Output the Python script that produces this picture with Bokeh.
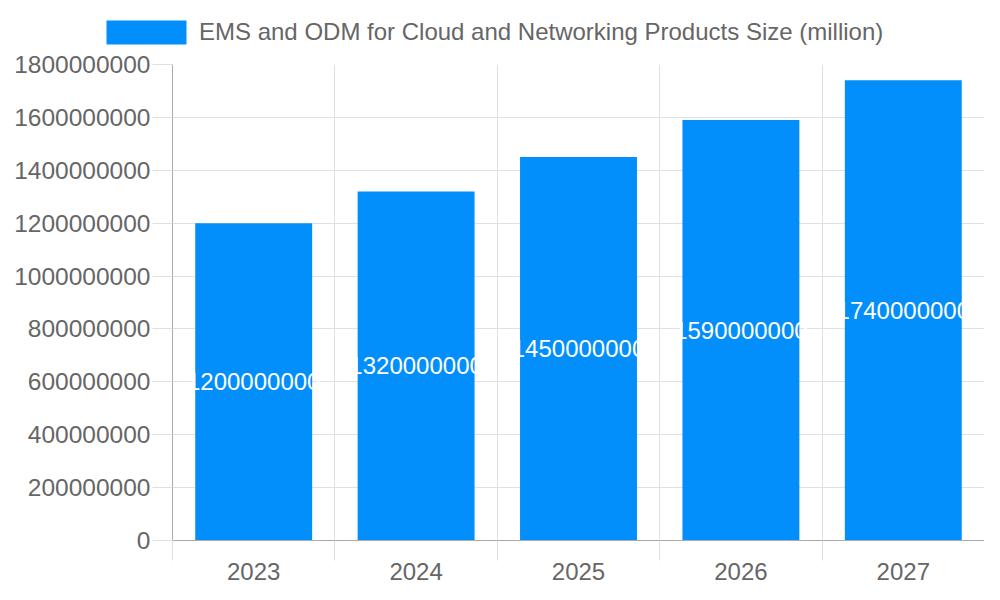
from bokeh.plotting import figure
from bokeh.models import ColumnDataSource, Range1d, FixedTicker, Legend, LegendItem, NumeralTickFormatter
from bokeh.embed import file_html
from bokeh.resources import INLINE
from bokeh.core.properties import value

# ---- data ----
years = ["2023", "2024", "2025", "2026", "2027"]
sizes = [1200000000, 1320000000, 1450000000, 1590000000, 1740000000]
series_name = "EMS and ODM for Cloud and Networking Products Size (million)"
y_ticks = [0, 200000000, 400000000, 600000000, 800000000,
           1000000000, 1200000000, 1400000000, 1600000000, 1800000000]

BLUE = "#038ffb"
TEXT = "#666666"
GRID = "#e0e0e0"
AXIS = "#aaaaaa"
FONT = "Liberation Sans"
W = 984
HEADER_H = 50
LEFT = 172

idx = list(range(len(years)))
boundaries = [i - 0.5 for i in range(len(years) + 1)]
src = ColumnDataSource(dict(
    x=idx,
    top=sizes,
    mid=[v / 2 for v in sizes],
    label=[str(v) for v in sizes],
))

# ---- header holding the legend (its own renderer is hidden) ----
h = figure(width=W, height=HEADER_H, output_backend="svg", toolbar_location=None,
           x_axis_type=None, y_axis_type=None,
           x_range=Range1d(-0.5, len(years) - 0.5), y_range=Range1d(0, y_ticks[-1]),
           min_border_left=0, min_border_right=0, min_border_top=0, min_border_bottom=0)
h.outline_line_color = None
h.grid.visible = False
legend_bar = h.vbar(x="x", top="top", bottom=0, width=0.72, source=src,
                    fill_color=BLUE, line_color=None)
legend_bar.visible = False
legend = Legend(items=[LegendItem(label=series_name, renderers=[legend_bar])],
                location=(96, 3), orientation="horizontal",
                glyph_width=100, glyph_height=30, label_standoff=3,
                label_text_font=FONT, label_text_font_size="24px",
                label_text_color=TEXT, padding=0, margin=0,
                border_line_color=None, background_fill_alpha=0,
                inactive_fill_alpha=0)
h.add_layout(legend, "center")

# ---- main chart ----
p = figure(width=W, height=584 - HEADER_H, output_backend="svg", toolbar_location=None,
           x_range=Range1d(-0.5, len(years) - 0.5),
           y_range=Range1d(0, y_ticks[-1]),
           min_border_left=LEFT, min_border_right=0,
           min_border_top=64 - HEADER_H, min_border_bottom=44)
p.outline_line_color = None
p.background_fill_color = "white"

bars = p.vbar(x="x", top="top", bottom=0, width=0.72, source=src,
              fill_color=BLUE, line_color=None)

p.text(x="x", y="mid", text="label", source=src, text_color="white",
       text_font=value(FONT), text_font_size="24px",
       text_align="center", text_baseline="middle")

# y axis
p.yaxis.ticker = FixedTicker(ticks=y_ticks)
p.yaxis.formatter = NumeralTickFormatter(format="0")
p.yaxis.major_tick_out = 20
p.yaxis.major_tick_in = 0
p.yaxis.minor_tick_line_color = None
p.yaxis.major_tick_line_color = GRID
p.yaxis.axis_line_color = AXIS
p.yaxis.major_label_standoff = 2
p.yaxis.major_label_text_font = FONT
p.yaxis.major_label_text_font_size = "24.5px"
p.yaxis.major_label_text_color = TEXT

# x axis
p.xaxis.ticker = FixedTicker(ticks=idx, minor_ticks=boundaries)
p.xaxis.major_label_overrides = {i: y for i, y in enumerate(years)}
p.xaxis.major_tick_line_color = None
p.xaxis.major_tick_out = 0
p.xaxis.major_tick_in = 0
p.xaxis.minor_tick_out = 20
p.xaxis.minor_tick_in = 0
p.xaxis.minor_tick_line_color = GRID
p.xaxis.axis_line_color = AXIS
p.xaxis.major_label_standoff = 2
p.xaxis.major_label_text_font = FONT
p.xaxis.major_label_text_font_size = "24px"
p.xaxis.major_label_text_color = TEXT

# grids
p.ygrid.ticker = FixedTicker(ticks=y_ticks)
p.ygrid.grid_line_color = GRID
p.xgrid.ticker = FixedTicker(ticks=boundaries)
p.xgrid.grid_line_color = GRID

# two separate roots so the header's frame is not aligned to the chart's frame
open("out.html", "w").write(file_html([h, p], INLINE))
